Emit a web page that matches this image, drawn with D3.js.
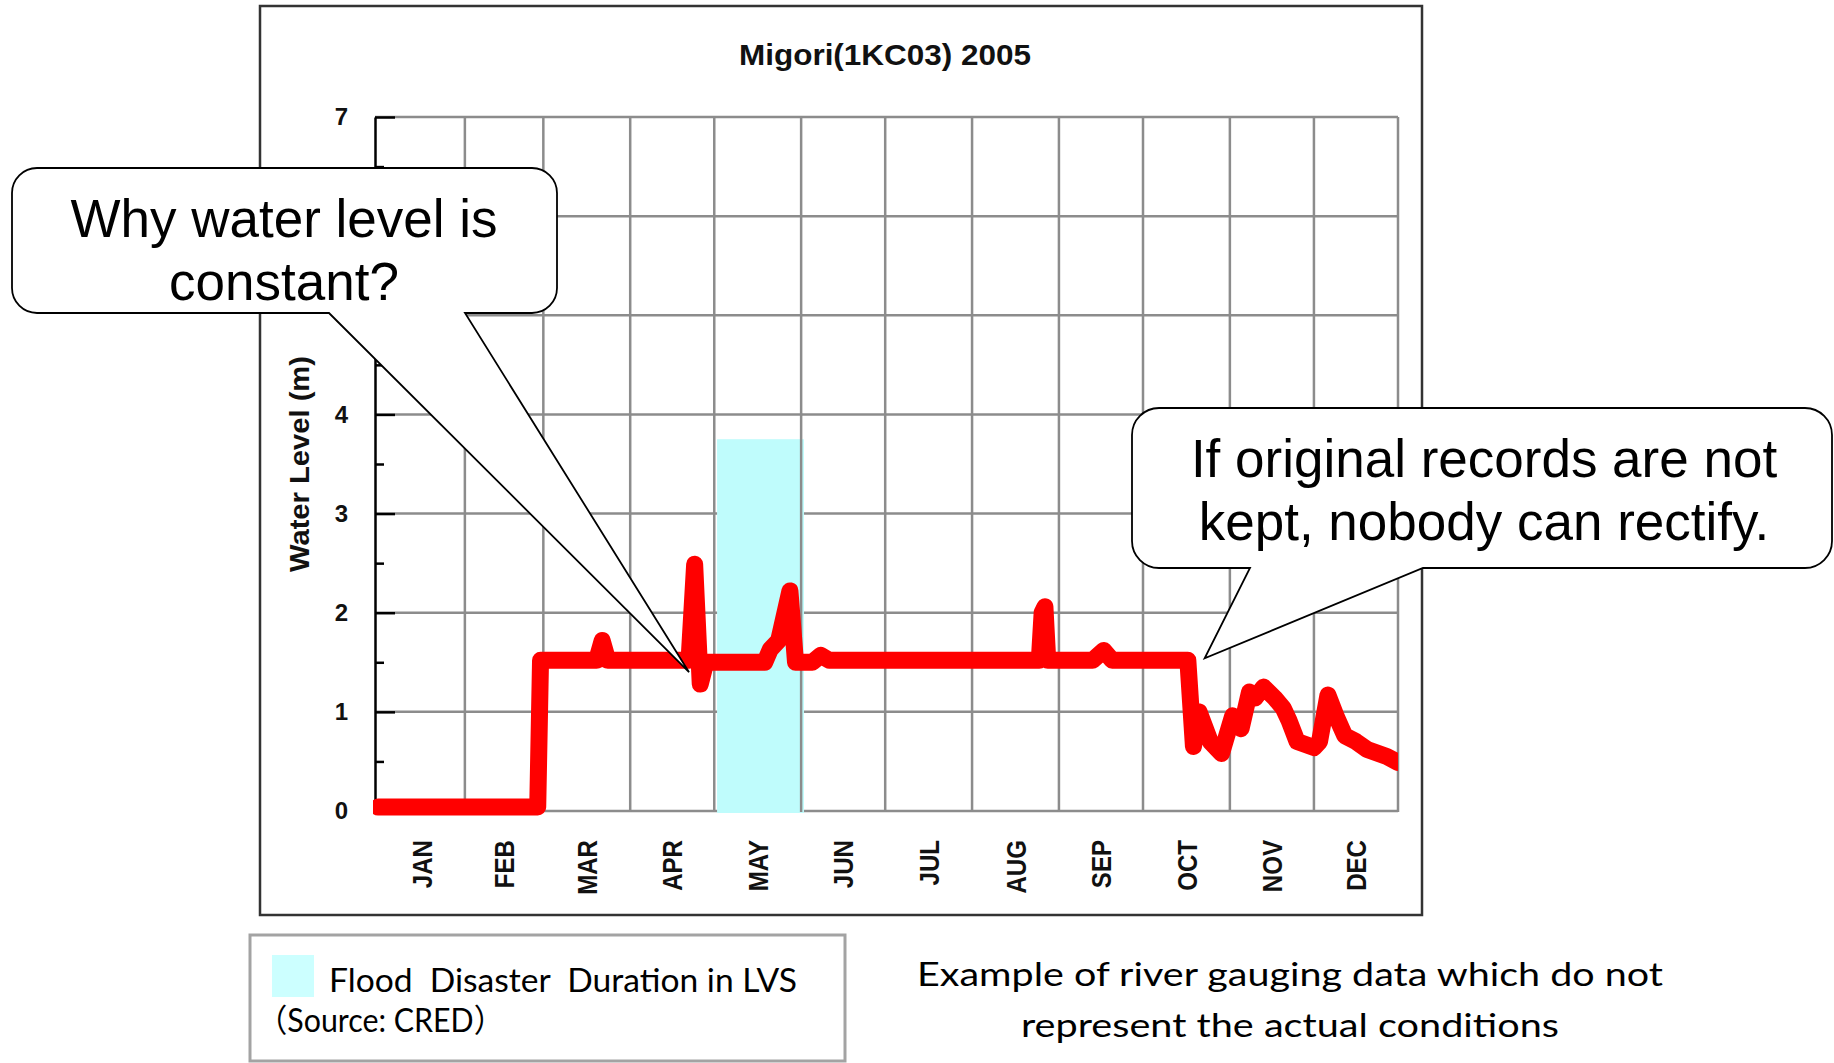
<!DOCTYPE html>
<html>
<head>
<meta charset="utf-8">
<script src="https://cdn.jsdelivr.net/npm/d3@7"></script>
<style>
body { margin: 0; background: #fff; }
svg { display: block; }
</style>
</head>
<body>
<svg width="1834" height="1063"></svg>
<script>
const width = 1834
const height = 1063
const plot = {left: 375, right: 1398, top: 117, bottom: 811}

// chart data
const title = "Migori(1KC03) 2005"
const yLabel = "Water Level (m)"
const months = ["JAN", "FEB", "MAR", "APR", "MAY", "JUN", "JUL", "AUG", "SEP", "OCT", "NOV", "DEC"]
const yTicks = [0, 1, 2, 3, 4, 5, 6, 7]
const yMinorTicks = [0.5, 1.5, 2.5, 3.5, 4.5, 5.5, 6.5]

const dates = [
    "2005-01-01", "2005-02-27", "2005-02-28", "2005-03-20", "2005-03-22", "2005-03-24",
    "2005-04-22", "2005-04-24", "2005-04-26", "2005-04-28", "2005-05-19", "2005-05-21",
    "2005-05-24", "2005-05-28", "2005-05-30", "2005-06-05", "2005-06-08", "2005-06-11",
    "2005-08-25", "2005-08-26", "2005-08-27", "2005-08-28", "2005-09-13", "2005-09-17",
    "2005-09-20", "2005-10-17", "2005-10-19", "2005-10-21", "2005-10-25", "2005-10-29",
    "2005-11-02", "2005-11-05", "2005-11-08", "2005-11-10", "2005-11-13", "2005-11-17",
    "2005-11-20", "2005-11-22", "2005-11-25", "2005-12-01", "2005-12-03", "2005-12-06",
    "2005-12-09", "2005-12-12", "2005-12-16", "2005-12-20", "2005-12-24", "2005-12-27",
    "2005-12-31"
]
const levels = [
    0.04, 0.04, 1.52, 1.52, 1.72, 1.52,
    1.52, 2.49, 1.28, 1.50, 1.50, 1.63,
    1.72, 2.22, 1.50, 1.50, 1.57, 1.52,
    1.52, 2.00, 2.06, 1.52, 1.52, 1.62,
    1.52, 1.52, 0.65, 1.00, 0.70, 0.58,
    0.96, 0.83, 1.20, 1.14, 1.25, 1.14,
    1.04, 0.92, 0.70, 0.64, 0.70, 1.17,
    0.95, 0.76, 0.70, 0.62, 0.58, 0.55,
    0.49
]

// flood disaster band
const floodStart = "2005-05-02"
const floodEnd = "2005-06-02"
const floodTop = 3.75

// callouts: text lines and the point the pointer touches
const callout1Lines = ["Why water level is", "constant?"]
const callout1Tip = {date: "2005-04-22", level: 1.40}
const callout2Lines = ["If original records are not", "kept, nobody can rectify."]
const callout2Tip = {date: "2005-10-23", level: 1.54}

const legendLines = ["Flood  Disaster  Duration in LVS", "（Source: CRED）"]
const captionLines = ["Example of river gauging data which do not", "represent the actual conditions"]

const parse = d3.timeParse("%Y-%m-%d")
const series = dates.map((d, i) => ({date: parse(d), level: levels[i]}))

// scales
const x = d3.scaleTime()
    .domain([parse("2005-01-01"), parse("2005-12-31")])
    .range([378, plot.right])
const y = d3.scaleLinear()
    .domain([0, 7])
    .range([plot.bottom, plot.top])

const svg = d3.select("svg")
svg.append("rect").attr("width", width).attr("height", height).attr("fill", "#fff")

// outer frame
svg.append("rect")
    .attr("x", 260).attr("y", 6)
    .attr("width", 1162).attr("height", 909)
    .attr("fill", "none")
    .attr("stroke", "#333")
    .attr("stroke-width", 2.5)

const gridColor = "#8c8c8c"

// horizontal grid
svg.append("g")
    .selectAll("line")
    .data(yTicks)
    .join("line")
    .attr("x1", plot.left).attr("x2", plot.right)
    .attr("y1", d => y(d)).attr("y2", d => y(d))
    .attr("stroke", gridColor)
    .attr("stroke-width", 2.5)

// flood band
svg.append("rect")
    .attr("x", x(parse(floodStart)))
    .attr("y", y(floodTop))
    .attr("width", x(parse(floodEnd)) - x(parse(floodStart)))
    .attr("height", y(0) - y(floodTop) + 2)
    .attr("fill", "#bffcfc")

// vertical grid at month starts + right border
const monthStarts = d3.range(12).map(i => new Date(2005, i, 1))
const vLines = monthStarts.slice(1).map(d => x(d)).concat([plot.right])
svg.append("g")
    .selectAll("line")
    .data(vLines)
    .join("line")
    .attr("x1", d => d).attr("x2", d => d)
    .attr("y1", y(7)).attr("y2", y(0) + 1)
    .attr("stroke", gridColor)
    .attr("stroke-width", 2.5)

// y axis (ticks point inside)
const yAxis = svg.append("g")
    .attr("transform", `translate(${plot.left},0)`)
    .call(d3.axisLeft(y).tickValues(yTicks).tickFormat(d3.format("d"))
        .tickSize(-20).tickSizeOuter(0).tickPadding(27))
yAxis.select(".domain").attr("stroke", "#000").attr("stroke-width", 2.5)
yAxis.selectAll(".tick line").attr("stroke", "#000").attr("stroke-width", 2.5)
yAxis.selectAll(".tick text")
    .attr("fill", "#111")
    .style("font", "bold 24px 'Liberation Sans', Arial, sans-serif")

svg.append("g")
    .attr("transform", `translate(${plot.left},0)`)
    .call(d3.axisLeft(y).tickValues(yMinorTicks).tickSize(-9).tickFormat(""))
    .call(g => g.select(".domain").remove())
    .selectAll(".tick line").attr("stroke", "#000").attr("stroke-width", 2.5)

// water level line
svg.append("clipPath").attr("id", "plotClip")
    .append("rect")
    .attr("x", plot.left - 2).attr("y", 90)
    .attr("width", plot.right - plot.left + 2).attr("height", 740)

const line = d3.line()
    .x(d => x(d.date))
    .y(d => y(d.level))

svg.append("path")
    .datum(series)
    .attr("clip-path", "url(#plotClip)")
    .attr("d", line)
    .attr("fill", "none")
    .attr("stroke", "#ff0000")
    .attr("stroke-width", 17)
    .attr("stroke-linejoin", "round")
    .attr("stroke-linecap", "round")

// squeeze text horizontally (the original uses a condensed font)
function squeeze(sel, k) {
    sel.each(function () {
        const n = this.getComputedTextLength()
        d3.select(this).attr("textLength", n * k).attr("lengthAdjust", "spacingAndGlyphs")
    })
}

// month labels
const monthCenters = months.map((m, i) => {
    const a = x(monthStarts[i])
    const b = i < 11 ? x(monthStarts[i + 1]) : plot.right
    return {name: m, cx: (a + b) / 2}
})
svg.append("g")
    .selectAll("text")
    .data(monthCenters)
    .join("text")
    .attr("transform", d => `translate(${d.cx},840) rotate(-90)`)
    .attr("text-anchor", "end")
    .attr("dy", "0.36em")
    .attr("fill", "#111")
    .style("font", "bold 28px 'Liberation Sans', Arial, sans-serif")
    .text(d => d.name)
    .call(squeeze, 0.86)

// title
svg.append("text")
    .attr("x", 885).attr("y", 65)
    .attr("text-anchor", "middle")
    .attr("fill", "#111")
    .style("font", "bold 30px 'Liberation Sans', Arial, sans-serif")
    .attr("textLength", 292).attr("lengthAdjust", "spacingAndGlyphs")
    .text(title)

// y axis title
svg.append("text")
    .attr("transform", "translate(300,464) rotate(-90)")
    .attr("text-anchor", "middle")
    .attr("dy", "0.35em")
    .attr("fill", "#111")
    .style("font", "bold 27px 'Liberation Sans', Arial, sans-serif")
    .attr("textLength", 216).attr("lengthAdjust", "spacingAndGlyphs")
    .text(yLabel)

// callouts
function calloutPath(b, tx, ty) {
    const x0 = b.x, y0 = b.y, x1 = b.x + b.w, y1 = b.y + b.h, r = b.r
    return `M${x0 + r},${y0} H${x1 - r} A${r},${r} 0 0 1 ${x1},${y0 + r} V${y1 - r} ` +
        `A${r},${r} 0 0 1 ${x1 - r},${y1} H${b.baseR} L${tx},${ty} L${b.baseL},${y1} ` +
        `H${x0 + r} A${r},${r} 0 0 1 ${x0},${y1 - r} V${y0 + r} A${r},${r} 0 0 1 ${x0 + r},${y0} Z`
}

const callouts = [
    {box: {x: 12, y: 168, w: 545, h: 145, r: 25, baseL: 329, baseR: 465},
     tip: callout1Tip, lines: callout1Lines, cx: 284, base: 237},
    {box: {x: 1132, y: 408, w: 700, h: 160, r: 27, baseL: 1250, baseR: 1423},
     tip: callout2Tip, lines: callout2Lines, cx: 1484, base: 477}
]

callouts.forEach(c => {
    const g = svg.append("g")
    g.append("path")
        .attr("d", calloutPath(c.box, x(parse(c.tip.date)), y(c.tip.level)))
        .attr("fill", "#fff")
        .attr("stroke", "#000")
        .attr("stroke-width", 1.8)
    g.selectAll("text")
        .data(c.lines)
        .join("text")
        .attr("x", c.cx)
        .attr("y", (d, i) => c.base + i * 63)
        .attr("text-anchor", "middle")
        .attr("fill", "#000")
        .style("font", "53px 'Liberation Sans', Arial, sans-serif")
        .text(d => d)
})

// legend box
svg.append("rect")
    .attr("x", 250).attr("y", 935)
    .attr("width", 595).attr("height", 126)
    .attr("fill", "#fff")
    .attr("stroke", "#a3a3a3")
    .attr("stroke-width", 3)
svg.append("rect")
    .attr("x", 272).attr("y", 955)
    .attr("width", 42).attr("height", 42)
    .attr("fill", "#ccffff")

const textFont = "32px Lato, 'Noto Sans CJK JP', sans-serif"
svg.append("text")
    .attr("x", 329).attr("y", 992)
    .style("font", textFont)
    .style("white-space", "pre")
    .attr("fill", "#000")
    .attr("textLength", 468).attr("lengthAdjust", "spacingAndGlyphs")
    .text(legendLines[0])
svg.append("text")
    .attr("x", 257).attr("y", 1032)
    .style("font", textFont)
    .attr("fill", "#000")
    .attr("textLength", 247).attr("lengthAdjust", "spacingAndGlyphs")
    .text(legendLines[1])

// caption
const captionWidths = [746, 538]
svg.append("g")
    .selectAll("text")
    .data(captionLines)
    .join("text")
    .attr("x", 1290)
    .attr("y", (d, i) => 986 + i * 51)
    .attr("text-anchor", "middle")
    .style("font", textFont)
    .attr("fill", "#000")
    .attr("textLength", (d, i) => captionWidths[i])
    .attr("lengthAdjust", "spacingAndGlyphs")
    .text(d => d)
</script>
</body>
</html>
